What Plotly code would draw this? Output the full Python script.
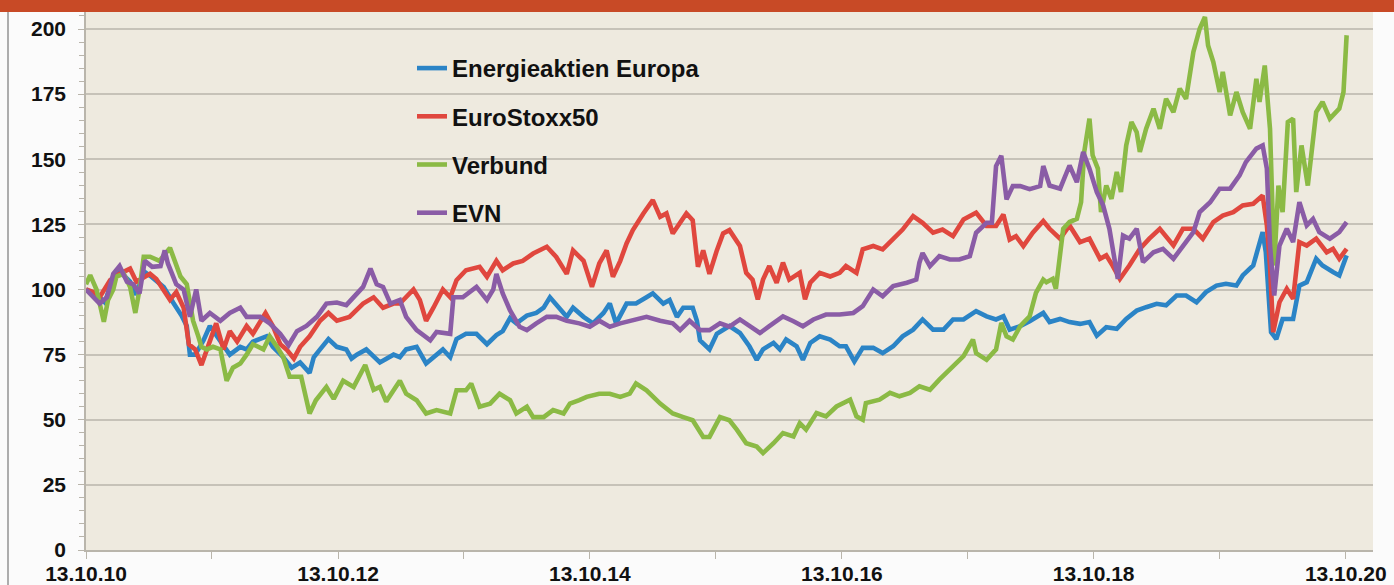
import numpy as np
import pandas as pd
import plotly.graph_objects as go

START = "2010-10-13"

# months since 13.10.2010 and indexed values (start = 100)
energie_t = [0, 1.3, 1.8, 2.6, 3.2, 4.2, 4.8, 5.5, 6.2, 7.4, 8.3, 9.1, 9.6, 9.9, 10.4, 11.2, 11.8, 12.8, 13.7, 14.7,
             15.3, 15.9, 17.2, 17.8, 18.8, 19.6, 20.4, 21.3, 21.7, 22.3, 23.1, 23.9, 24.8, 25.3, 25.8, 26.7, 28, 29.3,
             29.9, 30.5, 31.5, 32.4, 33.1, 34.0, 34.7, 35.3, 36.2, 37.2, 38.2, 39.1, 39.7, 40.4, 41.0, 42.0, 42.9, 43.6,
             44.2, 45.1, 45.8, 46.4, 47.4, 48.3, 49.3, 49.9, 50.5, 51.5, 52.4, 53.4, 54.0, 55.0, 55.6, 56.3, 56.9, 57.8,
             58.2, 58.5, 59.4, 60.1, 61.3, 62.3, 63.2, 63.9, 64.5, 65.5, 66.1, 66.7, 67.7, 68.3, 69.0, 69.9, 70.9, 71.8,
             72.4, 73.2, 74.0, 75.0, 75.9, 76.9, 77.8, 78.8, 79.7, 80.7, 81.7, 82.6, 83.6, 84.8, 85.8, 86.7, 87.4, 88.0,
             89.0, 89.9, 91.2, 91.8, 92.8, 93.7, 94.7, 95.6, 96.3, 97.2, 98.2, 99.1, 100.1, 101.0, 102.0, 102.9, 103.9,
             104.8, 105.8, 106.7, 107.7, 108.6, 109.6, 110.2, 111.2, 112.1, 112.4, 112.9, 113.4, 114.0, 115.0, 115.6,
             116.3, 117.2, 117.8, 118.8, 119.4, 120.1]
energie_v = [100, 97, 95, 105, 107, 103, 98, 107, 105, 101, 95, 90, 86, 75, 75, 80.5, 86, 80.5, 75, 78,
             77, 80, 82, 78, 74, 70, 72, 68, 74, 77, 81, 78, 77, 73.5, 75, 77, 72, 75,
             74, 77, 78, 71.6, 74, 77, 74, 81, 83, 83, 79, 82.5, 84, 89, 87, 90, 91, 93,
             97, 93, 89.5, 93, 89.5, 87, 91, 94.6, 87, 94.6, 94.6, 97, 98.5, 94.6, 96, 89.5, 93, 93,
             88, 80.5, 77, 83, 86, 83.3, 78.2, 73, 77, 79.5, 77, 80.8, 78.2, 73, 79.5, 82, 80.8, 78.2,
             78.2, 72.4, 77.6, 77.6, 75.6, 78.2, 82, 84.6, 88.5, 84.6, 84.6, 88.5, 88.5, 91.7, 89.7, 88.5, 89.7, 84.6,
             85.9, 87.8, 91, 87.5, 88.7, 87.5, 86.8, 87.5, 82.3, 85.5, 84.9, 88.7, 91.9, 93.2, 94.5, 93.9, 97.7,
             97.7, 95.1, 99, 101.5, 102.2, 101.5, 105.4, 109.2, 122, 114.3, 83.6, 81, 88.7, 88.7, 101.5,
             102.8, 111.8, 109.2, 106.7, 105.4, 113.1]

stoxx_t = [0, 0.7, 1.3, 2.3, 3.2, 4.2, 4.8, 6.1, 6.7, 8, 8.6, 9.3, 9.8, 10.4, 11, 11.6, 12.4, 13.1, 13.7, 14.4,
           15.3, 15.9, 17.1, 17.8, 18.5, 19.1, 19.8, 20.4, 21.3, 22.3, 23.1, 23.9, 25.1, 26.4, 27.4, 28.3, 29.3,
           29.9, 31.2, 31.8, 32.4, 33.1, 34.0, 34.7, 35.3, 36.2, 37.5, 38.2, 39.1, 39.7, 40.7, 41.6, 42.6, 43.9, 44.8,
           45.8, 46.4, 47.4, 48.2, 48.9, 49.6, 50.2, 50.9, 51.5, 52.1, 53.1, 54.0, 54.7, 55.3, 55.9, 56.6, 57.2, 57.8,
           58.3, 58.8, 59.4, 60.1, 60.7, 61.3, 62.3, 62.9, 63.5, 64.0, 64.5, 65.1, 65.8, 66.4, 67.0, 68.0, 68.5, 69.0,
           69.9, 70.9, 71.8, 72.4, 73.4, 74.0, 75.0, 75.9, 76.9, 77.8, 78.8, 79.7, 80.7, 81.6, 82.6, 83.6, 84.8, 85.8,
           86.7, 87.4, 88.0, 88.6, 89.3, 90.2, 91.2, 91.8, 92.8, 93.7, 94.7, 95.6, 96.6, 97.2, 97.8, 98.5, 99.4,
           100.4, 101.3, 102.3, 103.6, 104.5, 105.5, 106.4, 107.4, 108.3, 109.3, 110.2, 111.2, 111.8, 112.1, 112.5,
           112.8, 113.1, 113.7, 114.4, 115.0, 115.6, 116.3, 117.2, 118.2, 118.8, 119.4, 120.1]
stoxx_v = [100, 99, 97, 103.6, 106, 108, 103, 106, 104, 96, 99, 93, 79, 77, 71, 78, 87, 77, 84, 80,
           86, 83, 91, 86, 79, 77, 73.5, 78, 82, 88, 91, 88, 89.5, 94.6, 97, 93, 94.6,
           94.6, 100, 96, 88, 93, 100, 97, 103.6, 107.4, 108.7, 104.9, 111, 107.4, 110, 111, 113.8, 116.4, 112.5,
           106, 115, 111, 101, 110, 115, 104.9, 111, 117.7, 122.8, 129.2, 134.3, 127.9, 129.2, 121.5, 125.4, 129.2, 126.6,
           108.7, 115, 106, 115, 121.5, 122.8, 116.7, 106.4, 103.8, 96.2, 103.8, 109, 102.6, 110.3, 103.8, 106.4, 96.2, 102.6,
           106.4, 105, 106.4, 109, 106.4, 115.4, 116.7, 115.4, 119.2, 123, 128.2, 125.6, 121.8, 123, 120.5, 126.9, 129.5, 124.4,
           124.4, 128.8, 119.2, 120.5, 116.7, 121.8, 126.3, 123.3, 119.5, 124.6, 118.2, 119.5, 111.8, 113.1, 109.2, 104.1, 109.2,
           115.6, 119.5, 123.3, 116.9, 123.3, 123.3, 119.5, 125.9, 128.4, 129.7, 132.3, 132.9, 134.8, 136.1, 124.6,
           109.2, 83.6, 95.1, 100.3, 96.4, 118.2, 116.9, 119.5, 114.3, 115.6, 111.8, 115.6]

verbund_t = [0, 0.4, 1, 1.7, 2.1, 2.6, 2.9, 3.6, 4.2, 4.7, 5.1, 5.5, 6.1, 7, 8, 8.3, 9, 9.6, 10.2, 10.7,
             11, 11.5, 12.1, 12.8, 13.4, 14, 14.7, 15.3, 15.9, 16.9, 17.5, 18.2, 18.8, 19.4, 20.5, 21.3, 21.9, 22.9,
             23.6, 24.5, 25.5, 26.6, 27.4, 28, 28.6, 29.9, 30.5, 31.5, 32.4, 33.4, 34.7, 35.3, 36.2, 36.7, 37.5, 38.5,
             39.4, 40.4, 41.0, 42.0, 42.6, 43.6, 44.5, 45.5, 46.1, 47.0, 47.7, 48.9, 49.9, 50.9, 51.8, 52.4, 53.4, 54.7,
             55.9, 56.9, 57.8, 58.8, 59.4, 60.4, 61.3, 62.0, 62.9, 63.9, 64.5, 65.5, 66.4, 67.4, 68.0, 68.6, 69.6, 70.5,
             71.5, 72.8, 73.4, 74.0, 74.3, 75.6, 76.6, 77.5, 78.5, 79.4, 80.4, 81.3, 82.6, 83.6, 84.5, 84.8, 85.8, 86.7,
             87.2, 87.7, 88.3, 89.0, 89.9, 90.5, 91.2, 91.5, 92.1, 92.4, 93.1, 93.7, 94.4, 94.8, 95.1, 95.6, 95.9, 96.4,
             96.7, 97.2, 97.7, 98.2, 98.6, 99.1, 99.6, 100.1, 100.4, 101.0, 101.7, 102.3, 102.9, 103.6, 104.2, 104.8,
             105.5, 106.1, 106.6, 106.9, 107.4, 108.0, 108.3, 109.0, 109.6, 110.2, 110.9, 111.5, 111.8, 112.3, 112.8,
             113.1, 113.2, 113.6, 114.0, 114.5, 115.0, 115.3, 115.8, 116.4, 116.9, 117.2, 117.8, 118.5, 119.4, 119.8, 120.1]
verbund_v = [102, 105.5, 100, 87.6, 96, 100, 105, 106, 101, 91, 100, 112.6, 112.6, 111, 116, 112.6, 105, 102, 88, 82,
             78, 77, 78, 77, 65, 70, 71.6, 75, 79, 77, 82, 78, 74, 66.5, 66.5, 52.4, 57.5, 62.6,
             58, 65, 62.6, 71, 61.5, 62.6, 57, 65, 60, 57.5, 52.4, 53.7, 52.4, 61.3, 61.3, 63.9, 55, 56.2,
             60, 57.5, 52.4, 55, 51, 51, 53.7, 52.4, 56.2, 57.5, 58.8, 60, 60, 58.8, 60, 63.9, 61.3, 56.2,
             52.4, 51, 49.8, 43.4, 43.4, 51, 49.8, 46.2, 41, 39.7, 37.2, 41, 44.9, 43.6, 48.7, 46.2, 52.6, 51.3,
             55.1, 57.7, 51.3, 50, 56.4, 57.7, 60.3, 59, 60.3, 62.8, 61.5, 65.4, 70.5, 74.4, 80.8, 75.6, 73, 77,
             87.2, 82, 80.8, 85.9, 89.7, 98.7, 103.8, 102.8, 104.1, 100.3, 123.3, 125.9, 127.1, 133.5, 152.8, 165.6, 151.5, 146.4,
             129.7, 139.9, 134.8, 145.1, 137.4, 155.3, 164.3, 160.4, 152.8, 161.7, 169.4, 161.7, 173.2, 168.1, 177.1, 173.2,
             191.2, 200.1, 204.6, 193.7, 187.3, 175.8, 183.5, 166.8, 175.8, 168.1, 161.7, 180.9, 172, 186, 161.7,
             129.7, 109.2, 139.9, 129.7, 164.3, 165.6, 137.4, 155.3, 139.9, 157.9, 168.1, 172, 165.6, 169.4, 175.8, 197.6]

evn_t = [0, 1.3, 2, 2.6, 3.2, 3.9, 4.5, 5.1, 5.6, 6.3, 7.1, 7.5, 7.8, 8.6, 9.3, 9.9, 10.5, 11, 11.8, 12.8,
         13.7, 14.7, 15.3, 16.6, 17.5, 18.5, 19.3, 20.1, 21, 22, 22.9, 23.9, 24.8, 25.8, 26.4, 27.1, 27.7, 28.3, 29,
         29.9, 30.5, 31.5, 32.8, 33.4, 34.7, 35.0, 35.9, 37.2, 38.2, 38.8, 39.1, 39.7, 40.4, 41.3, 42.0, 42.9, 43.9,
         44.8, 45.8, 47.0, 48.0, 48.9, 49.9, 50.9, 52.1, 53.4, 54.7, 55.9, 56.6, 57.5, 58.5, 59.4, 60.4, 61.3, 62.3,
         63.2, 64.2, 65.1, 66.4, 67.4, 68.3, 69.3, 70.5, 71.8, 73.1, 74.0, 75.0, 75.9, 76.9, 78.2, 79.1, 79.4, 79.7,
         80.4, 81.3, 82.3, 83.2, 84.2, 84.8, 85.8, 86.3, 86.7, 87.2, 87.7, 88.3, 89.0, 89.9, 90.9, 91.2, 91.8, 92.8,
         93.7, 94.4, 95.0, 95.6, 96.3, 96.9, 97.5, 98.3, 98.8, 99.4, 100.1, 100.7, 101.7, 102.6, 103.6, 104.5, 105.5,
         106.1, 107.1, 108.0, 109.0, 109.9, 110.5, 111.5, 112.1, 112.5, 112.8, 113.2, 113.7, 114.4, 115.0, 115.6,
         116.3, 116.9, 117.5, 118.5, 119.4, 120.1]
evn_v = [100, 94.6, 97, 106, 109, 103, 102, 98.5, 111, 108.7, 109, 115, 110, 102, 100, 89.5, 100, 88, 91, 88,
         91, 93, 89.5, 89.5, 87, 83, 78.6, 84, 86, 89.5, 94.6, 95, 94, 98.5, 101, 108, 102, 101, 94.6,
         96, 89.5, 84.4, 80.5, 83.7, 83, 97, 97, 101, 96, 100, 106, 98.5, 92, 85.7, 84.4, 87, 89.5,
         89.5, 88, 87, 85.7, 88, 85.7, 87, 88, 89.5, 88, 87, 84.4, 88, 84.4, 84.4, 87, 85.7, 88.5,
         85.9, 83.3, 85.9, 89.7, 87.8, 85.9, 88.5, 90.4, 90.4, 91, 93.6, 100, 97.4, 101.3, 102.6, 103.8, 110.3, 114,
         109, 112.8, 111.5, 111.5, 112.8, 121.8, 125.6, 125.6, 147.4, 151.3, 134.6, 139.7, 139.7, 138.5, 139.7, 147.4, 139.9, 138.7,
         147.6, 141.2, 152.8, 146.4, 137.4, 132.3, 123.3, 104.1, 120.7, 119.5, 123.3, 110.5, 114.3, 115.6, 111.8, 116.9, 122,
         129.7, 133.5, 138.7, 138.7, 143.8, 148.9, 154.1, 155.3, 146.4, 116.9, 97.7, 116.9, 123.3, 118.2, 133.5,
         124.6, 127.1, 122, 119.5, 122, 125.9]

names = ["Energieaktien Europa", "EuroStoxx50", "Verbund", "EVN"]
colors = ["#2B84C6", "#E0473E", "#8BBA45", "#8A5CA6"]
series_t = [energie_t, stoxx_t, verbund_t, evn_t]
series_v = [energie_v, stoxx_v, verbund_v, evn_v]


def to_dates(t):
    return pd.Timestamp(START) + pd.to_timedelta(np.asarray(t) * 30.4375, unit="D")


W, H = 1394, 585
ML, MR, MT, MB = 86, 21, 12, 35
PW, PH = W - ML - MR, H - MT - MB

fig = go.Figure()
for name, col, t, v in zip(names, colors, series_t, series_v):
    fig.add_trace(go.Scatter(x=to_dates(t), y=v, mode="lines", name=name, legendgroup=name,
                             line=dict(color=col, width=4.6)))

tickfont = dict(family="Liberation Sans, Arial, sans-serif", size=21, color="#111111", weight="bold")
axis_grey = "#B9B5AB"

fig.update_layout(
    width=W, height=H,
    margin=dict(l=ML, r=MR, t=MT, b=MB, pad=0, autoexpand=False),
    paper_bgcolor="#FBFBFB",
    plot_bgcolor="#EEEADF",
    showlegend=True,
    legend=dict(x=(412 - ML) / PW, y=1 - (46 - MT) / PH, xanchor="left", yanchor="top",
                bgcolor="rgba(0,0,0,0)", tracegroupgap=14, itemwidth=30,
                font=dict(family="Liberation Sans, Arial, sans-serif", size=24, color="#111111", weight="bold")),
    xaxis=dict(type="date", range=[pd.Timestamp(START), pd.Timestamp("2020-12-31")],
               tick0=START, dtick="M24", tickformat="%d.%m.%y", automargin=False,
               ticks="outside", ticklen=7, tickcolor=axis_grey, tickwidth=1,
               showline=True, linecolor=axis_grey, linewidth=1.5, showgrid=False, zeroline=False,
               tickfont=tickfont, ticklabelstandoff=-3,
               minor=dict(tick0=START, dtick="M12", ticks="outside", ticklen=7, tickcolor=axis_grey, showgrid=False)),
    yaxis=dict(range=[0, PH / 2.605], tick0=0, dtick=25, automargin=False,
               ticks="outside", ticklen=6, tickcolor=axis_grey, tickwidth=1,
               showline=True, linecolor=axis_grey, linewidth=1.5,
               showgrid=True, gridcolor="#C6C2B8", gridwidth=1.5, zeroline=False,
               tickfont=tickfont, ticklabelstandoff=8,
               minor=dict(dtick=5, ticks="outside", ticklen=5, tickcolor=axis_grey, showgrid=False)),
    shapes=[
        dict(type="rect", xref="paper", yref="paper", x0=-ML / PW, x1=1 + MR / PW, y0=1, y1=1 + MT / PH,
             fillcolor="#C84A26", line=dict(width=0), layer="above"),
        dict(type="line", xref="paper", yref="paper", x0=(8 - ML) / PW, x1=(8 - ML) / PW, y0=-MB / PH, y1=1,
             line=dict(color="#7A7A7A", width=1.2)),
    ],
)

fig.write_html("out.html", config={"displayModeBar": False},
               post_script="document.body.style.margin='0';document.body.style.overflow='hidden';")
